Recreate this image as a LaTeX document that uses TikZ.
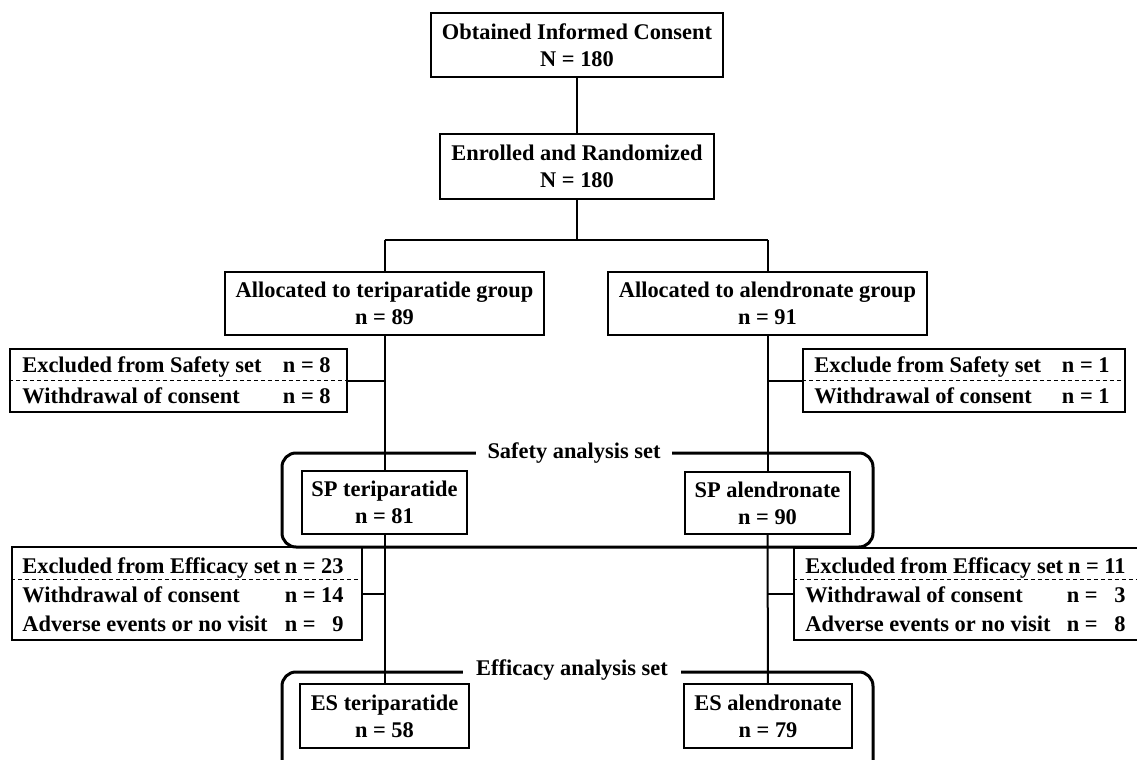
\documentclass[tikz,border=0pt]{standalone}
\usepackage{fontspec}
\setmainfont{Liberation Serif}
\usetikzlibrary{calc}
\begin{document}
\begin{tikzpicture}[x=0.5pt,y=-0.5pt,
  every node/.style={font=\bfseries\fontsize{11.2}{13.5}\selectfont, inner sep=0pt},
  box/.style={draw, line width=1.1pt, align=center},
  conn/.style={line width=1pt},
  setline/.style={line width=1.5pt, rounded corners=7pt},
  sep/.style={dashed, line width=0.5pt, dash pattern=on 2pt off 1.5pt},
  setlabel/.style={fill=white, inner xsep=6pt, inner ysep=2pt},
  row/.style={anchor=base west},
  num/.style={anchor=base east}]
\clip (0,0) rectangle (1137,760);
\fill[white] (0,0) rectangle (1137,760);

% main chain
\node[box, minimum width=146pt, minimum height=32pt] (consent) at (577,45) {Obtained Informed Consent\\N = 180};
\node[box, minimum width=137pt, minimum height=32.5pt] (enrolled) at (577,166.5) {Enrolled and Randomized\\N = 180};
\draw[conn] (consent) -- (enrolled);

\node[box, minimum width=159.5pt, minimum height=31.5pt] (allocT) at (384.5,303.5) {Allocated to teriparatide group\\n = 89};
\node[box, minimum width=159.5pt, minimum height=31.5pt] (allocA) at (767.5,303.5) {Allocated to alendronate group\\n = 91};

\coordinate (br) at (577,240);
\draw[conn] (enrolled.south) -- (br);
\draw[conn] (allocT.north |- br) -- (allocA.north |- br);
\draw[conn] (allocT.north |- br) -- (allocT.north);
\draw[conn] (allocA.north |- br) -- (allocA.north);

% safety set
\draw[setline] (282,453) rectangle (873,547);
\node[setlabel] (safetylbl) at (574,453) {Safety analysis set};
\node[box, minimum width=82.5pt, minimum height=31.5pt] (spT) at (384.5,502.5) {SP teriparatide\\n = 81};
\node[box, minimum width=82.5pt, minimum height=31pt] (spA) at (767.5,503) {SP alendronate\\n = 90};
\draw[conn] (allocT) -- (spT);
\draw[conn] (allocA) -- (spA);

% safety exclusions
\node[box, minimum width=168.5pt, minimum height=31.5pt] (exSL) at (178.5,380.5) {};
\draw[sep] (exSL.west) -- (exSL.east);
\node[row] (exSL1) at (22,372) {Excluded from Safety set};
\node[num] (exSL1n) at (331,372) {n = 8};
\node[row] (exSL2) at (22,403) {Withdrawal of consent};
\node[num] (exSL2n) at (331,403) {n = 8};
\draw[conn] (exSL.east) -- (exSL.east -| allocT.south);

\node[box, minimum width=161pt, minimum height=31.5pt] (exSR) at (964,380.5) {};
\draw[sep] (exSR.west) -- (exSR.east);
\node[row] (exSR1) at (814,372) {Exclude from Safety set};
\node[num] (exSR1n) at (1110,372) {n = 1};
\node[row] (exSR2) at (814,403) {Withdrawal of consent};
\node[num] (exSR2n) at (1110,403) {n = 1};
\draw[conn] (exSR.west) -- (exSR.west -| allocA.south);

% efficacy exclusions
\node[box, minimum width=175pt, minimum height=46.5pt] (exEL) at (187,593.5) {};
\draw[sep] ($(exEL.west)+(0,-14)$) -- ($(exEL.east)+(0,-14)$);
\node[row] (exEL1) at (22,573) {Excluded from Efficacy set};
\node[num] (exEL1n) at (344,573) {n = 23};
\node[row] (exEL2) at (22,602) {Withdrawal of consent};
\node[num] (exEL2n) at (344,602) {n = 14};
\node[row] (exEL3) at (22,631) {Adverse events or no visit};
\node[num] (exEL3n) at (344,631) {n =\ \ \ 9};
\draw[conn] (exEL.east) -- (exEL.east -| spT.south);

\node[box, minimum width=176pt, minimum height=46pt] (exER) at (970,594) {};
\draw[sep] ($(exER.west)+(0,-15)$) -- ($(exER.east)+(0,-15)$);
\node[row] (exER1) at (805,573) {Excluded from Efficacy set};
\node[num] (exER1n) at (1126,573) {n = 11};
\node[row] (exER2) at (805,602) {Withdrawal of consent};
\node[num] (exER2n) at (1126,602) {n =\ \ \ 3};
\node[row] (exER3) at (805,631) {Adverse events or no visit};
\node[num] (exER3n) at (1126,631) {n =\ \ \ 8};
\draw[conn] (exER.west) -- (exER.west -| spA.south);

% efficacy set
\draw[setline] (282,672) rectangle (873,775);
\node[setlabel, inner xsep=6.5pt] (efflbl) at (572,670) {Efficacy analysis set};
\node[box, minimum width=84.5pt, minimum height=32pt] (esT) at (384.5,716) {ES teriparatide\\n = 58};
\node[box, minimum width=84pt, minimum height=32pt] (esA) at (768,716) {ES alendronate\\n = 79};
\draw[conn] (spT) -- (esT);
\draw[conn] (spA) -- (esA);
\end{tikzpicture}
\end{document}
